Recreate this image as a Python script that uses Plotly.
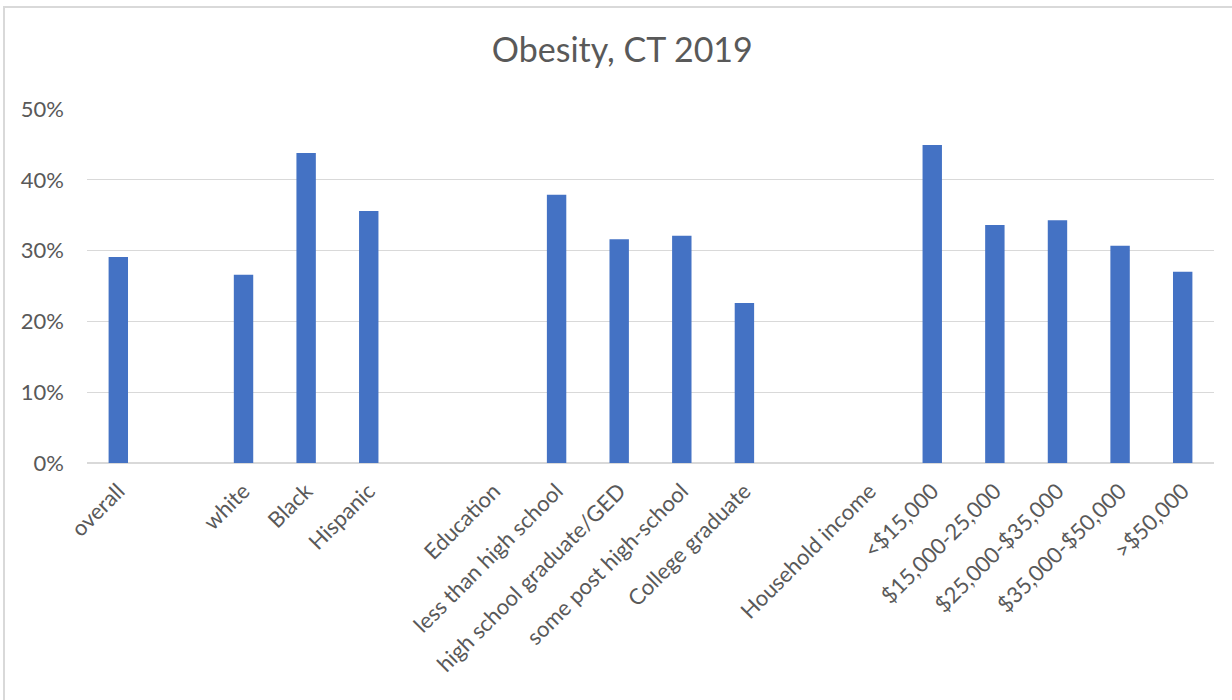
import plotly.graph_objects as go

categories = ["overall", "", "white", "Black", "Hispanic", "", "Education",
              "less than high school", "high school graduate/GED", "some post high-school",
              "College graduate", "", "Household income", "<$15,000", "$15,000-25,000",
              "$25,000-$35,000", "$35,000-$50,000", ">$50,000"]
values = [29.1, None, 26.6, 43.8, 35.6, None, None,
          37.9, 31.6, 32.1, 22.6, None, None, 44.9, 33.6, 34.3, 30.7, 27.0]
y_ticks = [0, 10, 20, 30, 40, 50]
y_tick_labels = ["0%", "10%", "20%", "30%", "40%", "50%"]

positions = list(range(len(categories)))

FONT = "Lato"
GRAY = "#595959"

fig = go.Figure(go.Bar(
    x=positions, y=[v if v is not None else 0 for v in values],
    marker=dict(color="#4472C4", line=dict(width=0)),
    width=0.31,
))

fig.update_layout(
    width=1232, height=700,
    margin=dict(l=87, r=18, t=109, b=237),
    paper_bgcolor="white", plot_bgcolor="white",
    showlegend=False,
    title=dict(text="Obesity, CT 2019", x=0.475, xref="paper", xanchor="center",
               y=1 - 50 / 700, yref="container", yanchor="middle",
               font=dict(family=FONT, size=34, color=GRAY)),
    font=dict(family=FONT, color=GRAY),
    xaxis=dict(
        tickmode="array", tickvals=positions, ticktext=categories,
        range=[-0.5, len(categories) - 0.5], tickangle=-45,
        tickfont=dict(family=FONT, size=22, color=GRAY),
        showgrid=False, zeroline=False, showline=False, ticks="",
        ticklabelstandoff=10,
    ),
    yaxis=dict(
        range=[0, 50], tickmode="array", tickvals=y_ticks, ticktext=y_tick_labels,
        tickfont=dict(family=FONT, size=22, color=GRAY),
        showgrid=True, gridcolor="#d9d9d9", gridwidth=1,
        zeroline=True, zerolinecolor="#d9d9d9", zerolinewidth=1.5,
        showline=False, ticks="", ticklabelstandoff=22,
    ),
)

fig.add_shape(type="rect", xref="paper", yref="paper",
              x0=(4 - 87) / 1127, x1=(1240 - 87) / 1127,
              y0=(463 - 710) / 354, y1=(463 - 7) / 354,
              line=dict(color="#d9d9d9", width=2), fillcolor="rgba(0,0,0,0)",
              layer="below")

fig.write_html("out.html")
